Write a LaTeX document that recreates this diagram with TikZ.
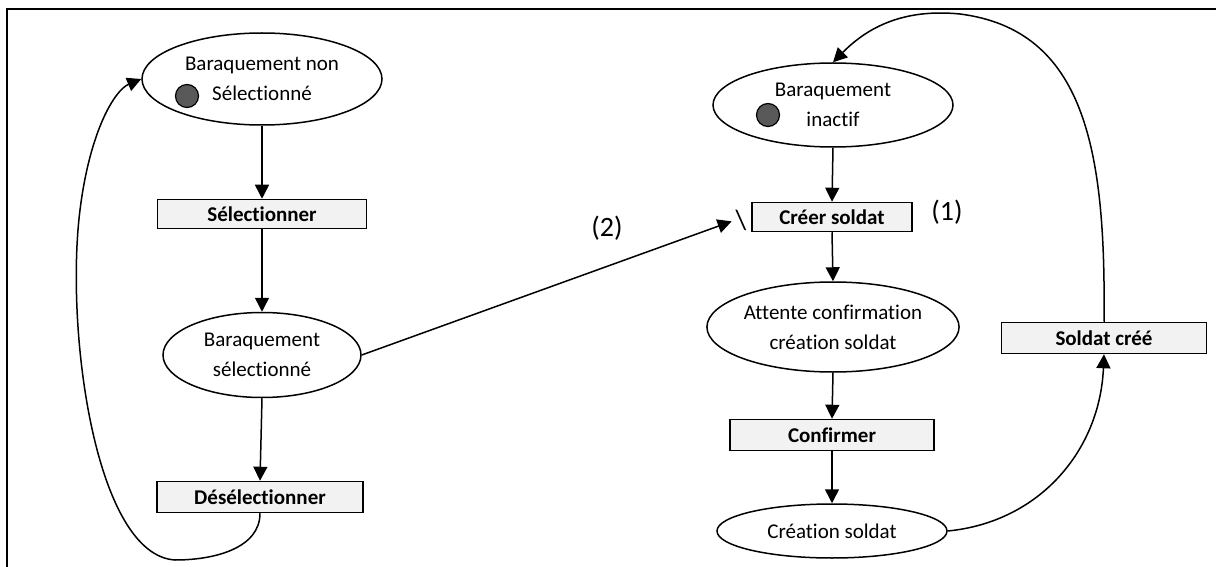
\documentclass[tikz,border=0pt]{standalone}
\usepackage{fontspec}
\setmainfont{Carlito}[Ligatures=NoCommon]
\usetikzlibrary{shapes.geometric,arrows.meta}
\definecolor{boxgray}{HTML}{F2F2F2}
\definecolor{tokgray}{HTML}{595959}
\begin{document}
\begin{tikzpicture}[x=1pt,y=-1pt,
  every node/.style={font=\fontsize{21}{30}\selectfont},
  place/.style={ellipse,draw,line width=1.5pt,inner sep=0pt,align=center},
  trans/.style={draw,line width=1.5pt,fill=boxgray,inner sep=0pt,font=\fontsize{21}{30}\selectfont\bfseries},
  token/.style={circle,draw,line width=1.2pt,fill=tokgray,minimum size=23pt,inner sep=0pt},
  lbl/.style={font=\fontsize{28}{32}\selectfont,inner sep=0pt},
  arc/.style={line width=1.5pt,-{Triangle[length=14pt,width=14pt]}}
]
\useasboundingbox (0,0) rectangle (1216,567);
\draw[line width=2.5pt] (1216,9) -- (7,9) -- (7,567);

% left column
\node[place,minimum width=240pt,minimum height=92pt] (e1) at (262,79) {Baraquement non\\Sélectionné};
\node[token] (t1) at (187,96) {};
\node[trans,minimum width=209pt,minimum height=29pt] (s1) at (262,214) {Sélectionner};
\node[place,minimum width=198pt,minimum height=85pt] (e2) at (262,355) {Baraquement\\sélectionné};
\node[trans,minimum width=206pt,minimum height=31pt] (d1) at (260,497) {Désélectionner};

% right column
\node[place,minimum width=240pt,minimum height=84pt] (e3) at (833,105) {Baraquement\\inactif};
\node[token] (t3) at (768,115) {};
\node[trans,minimum width=160pt,minimum height=29pt] (c1) at (832,217) {Créer soldat};
\node[lbl] (n1) at (947,212) {(1)};
\node[lbl] (n2) at (607,228) {(2)};
\node[lbl] (bs) at (741,220) {\textbackslash};
\node[place,minimum width=243pt,minimum height=90pt] (e4) at (833,327) {Attente confirmation\\création soldat};
\node[trans,minimum width=204pt,minimum height=31pt] (cf) at (832,435) {Confirmer};
\node[place,minimum width=230pt,minimum height=54pt] (e5) at (832,531) {Création soldat};
\node[trans,minimum width=205pt,minimum height=31pt] (sc) at (1104,338) {Soldat créé};

% connectors
\draw[arc] (e1.south) -- (s1.north);
\draw[arc] (s1.south) -- (e2.north);
\draw[arc] (e2.south) -- (d1.north);
\draw[arc] (e3.south) -- (c1.north);
\draw[arc] (c1.south) -- (e4.north);
\draw[arc] (e4.south) -- (cf.north);
\draw[arc] (cf.south) -- (e5.north);
\draw[arc,shorten >=4pt] (e2.east) -- (bs.west);
\draw[arc] (e5.east) .. controls (1040,522) and (1100,450) .. (sc.south);
\draw[arc] (sc.north) .. controls (1106,150) and (1085,30) .. (960,14) .. controls (900,8) and (865,30) .. (e3.north);
\draw[arc] (d1.south) .. controls (260,548) and (215,560) .. (175,560) .. controls (95,555) and (65,330) .. (80,210) .. controls (90,130) and (115,90) .. (e1.west);
\end{tikzpicture}
\end{document}
